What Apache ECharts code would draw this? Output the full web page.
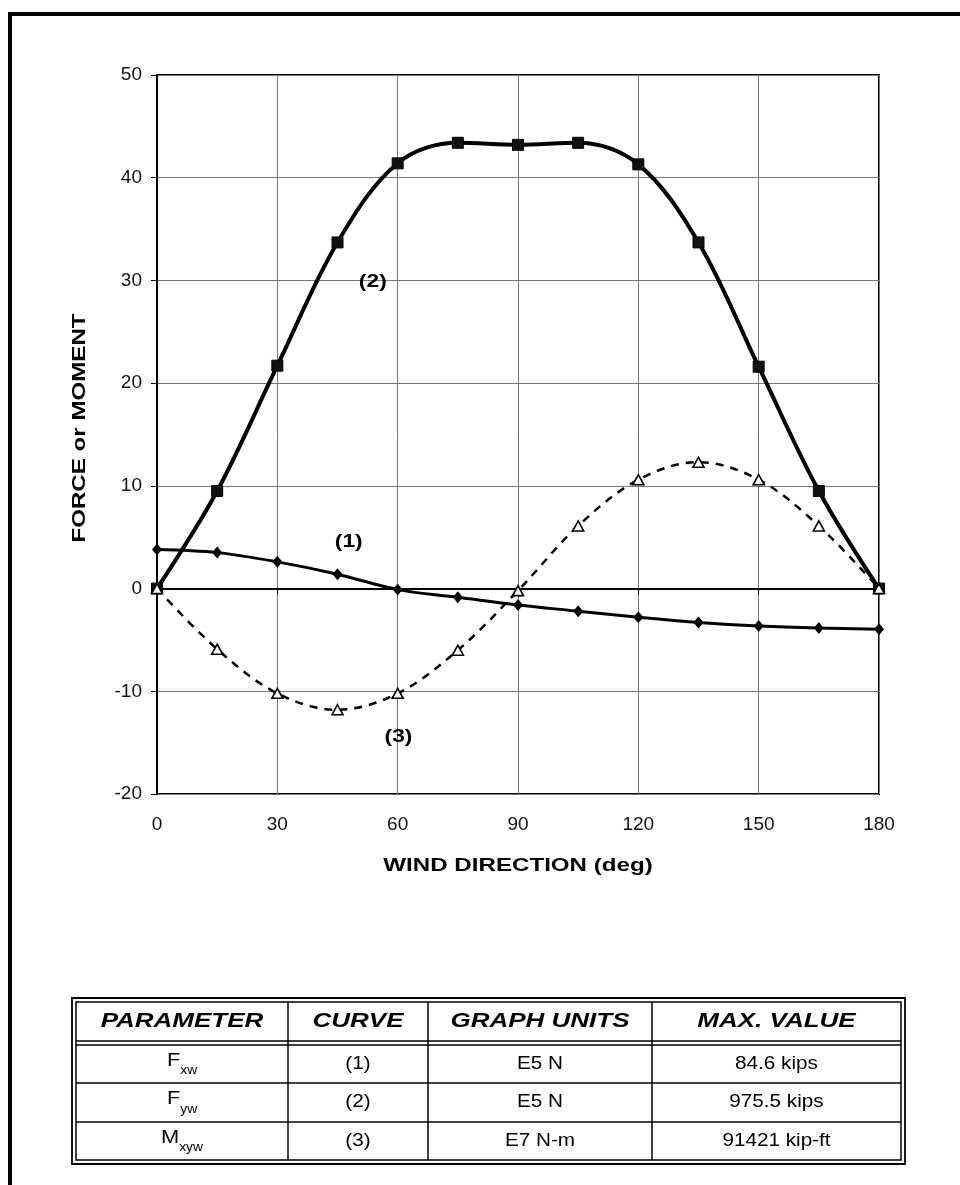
<!DOCTYPE html>
<html>
<head>
<meta charset="utf-8">
<title>Force or moment vs wind direction</title>
<script src="https://cdn.jsdelivr.net/npm/echarts@6.0.0/dist/echarts.min.js"></script>
<style>
html, body { margin: 0; padding: 0; background: #fff; }
#main { width: 960px; height: 1185px; }
</style>
</head>
<body>
<div id="main"></div>
<script>
/**
 * data
 * */
// wind direction (deg)
var windDir = [0, 15, 30, 45, 60, 75, 90, 105, 120, 135, 150, 165, 180];
// (1) Fxw, E5 N
var curveFxw = [3.8, 3.5, 2.6, 1.4, -0.1, -0.85, -1.6, -2.2, -2.8, -3.3, -3.65, -3.85, -3.95];
// (2) Fyw, E5 N
var curveFyw = [0, 9.5, 21.7, 33.7, 41.4, 43.4, 43.2, 43.4, 41.3, 33.7, 21.6, 9.5, 0];
// (3) Mxyw, E7 N-m
var curveMxyw = [0, -5.9, -10.2, -11.8, -10.2, -6.0, -0.2, 6.1, 10.6, 12.3, 10.6, 6.1, 0];

// axis titles
var xTitle = 'WIND DIRECTION (deg)';
var yTitle = 'FORCE or MOMENT';

// curve tags, in data units
var tagText = ['(1)', '(2)', '(3)'];
var tagX = [47.8, 53.8, 60.2];
var tagY = [4.6, 29.9, -14.4];

// table
var tableHead = ['PARAMETER', 'CURVE', 'GRAPH UNITS', 'MAX. VALUE'];
var paramName = ['F', 'F', 'M'];
var paramSub = ['xw', 'yw', 'xyw'];
var curveNo = ['(1)', '(2)', '(3)'];
var graphUnits = ['E5 N', 'E5 N', 'E7 N-m'];
var maxValue = ['84.6 kips', '975.5 kips', '91421 kip-ft'];

/**
 * layout
 * */
var tbl = {
	outer: [72, 998, 905, 1164],
	inner: [76, 1002, 901, 1160],
	colX: [76, 288, 428, 652, 901],
	rowY: [1002, 1041, 1045, 1083, 1122, 1160]
};
var textFont = 'Liberation Sans';

function pairs(ys) {
	return windDir.map(function(x, i) { return [x, ys[i]]; });
}

var chart = echarts.init(document.getElementById('main'));

var option = {
	animation: false,
	backgroundColor: '#fff',
	grid: {
		left: 157, top: 75, width: 722, height: 719,
		show: true, borderColor: '#000', borderWidth: 2,
		outerBoundsMode: 'none'
	},
	xAxis: {
		type: 'value', min: 0, max: 180, interval: 30,
		axisLine: { show: true, lineStyle: { color: '#000', width: 2 } },
		axisTick: { show: true, length: 6, lineStyle: { color: '#000' } },
		axisLabel: { fontFamily: textFont, fontSize: 19, color: '#111', margin: 21 },
		splitLine: { show: true, lineStyle: { color: '#777', width: 1 } }
	},
	yAxis: {
		type: 'value', min: -20, max: 50, interval: 10,
		axisLine: { show: true, lineStyle: { color: '#000', width: 2 } },
		axisTick: { show: true, length: 6, lineStyle: { color: '#000' } },
		axisLabel: { fontFamily: textFont, fontSize: 19, color: '#111', margin: 15 },
		splitLine: { show: true, lineStyle: { color: '#777', width: 1 } }
	},
	series: [{
		name: 'Fxw', type: 'line', data: pairs(curveFxw), smooth: 0.35,
		symbol: 'diamond', symbolSize: [10, 12], showAllSymbol: true,
		lineStyle: { color: '#000', width: 3 }, itemStyle: { color: '#000' }, z: 3
	}, {
		name: 'Fyw', type: 'line', data: pairs(curveFyw), smooth: 0.35,
		symbol: 'rect', symbolSize: 11, showAllSymbol: true,
		lineStyle: { color: '#000', width: 4 }, itemStyle: { color: '#111', borderColor: '#000', borderWidth: 1 }, z: 4
	}, {
		name: 'Mxyw', type: 'line', data: pairs(curveMxyw), smooth: 0.35,
		symbol: 'triangle', symbolSize: [11, 10], showAllSymbol: true,
		lineStyle: { color: '#000', width: 2.5, type: [8, 7] },
		itemStyle: { color: '#fff', borderColor: '#000', borderWidth: 1.6 }, z: 5
	}]
};

chart.setOption(option);

/**
 * graphic: titles, tags, table, page frame
 * */
var g = [];
var titleFont = 'bold 19px "' + textFont + '"';

// axis titles (stretched, like the scanned original)
var pLeftBottom = chart.convertToPixel({ gridIndex: 0 }, [0, -20]);
var pRightTop = chart.convertToPixel({ gridIndex: 0 }, [180, 50]);
g.push({
	type: 'text', x: (pLeftBottom[0] + pRightTop[0]) / 2, y: pLeftBottom[1] + 72, scaleX: 1.27, z: 10,
	style: { text: xTitle, font: titleFont, fill: '#000', align: 'center', verticalAlign: 'middle' }
});
g.push({
	type: 'text', x: 80, y: 428, rotation: Math.PI / 2, scaleX: 1.27, z: 10,
	style: { text: yTitle, font: titleFont, fill: '#000', align: 'center', verticalAlign: 'middle' }
});

// curve tags
tagText.forEach(function(t, i) {
	var p = chart.convertToPixel({ gridIndex: 0 }, [tagX[i], tagY[i]]);
	g.push({
		type: 'text', x: p[0], y: p[1], scaleX: 1.2, z: 10,
		style: { text: t, align: 'center', verticalAlign: 'middle',
			font: 'bold 19px "' + textFont + '"', fill: '#000' }
	});
});

// page frame
g.push({ type: 'line', shape: { x1: 10, y1: 12, x2: 10, y2: 1185 }, style: { stroke: '#000', lineWidth: 4 } });
g.push({ type: 'line', shape: { x1: 8, y1: 14, x2: 960, y2: 14 }, style: { stroke: '#000', lineWidth: 4 } });

// table borders
function rect(b, w) {
	g.push({ type: 'rect', shape: { x: b[0], y: b[1], width: b[2] - b[0], height: b[3] - b[1] },
		style: { fill: 'none', stroke: '#000', lineWidth: w } });
}
function hline(y, x1, x2) {
	g.push({ type: 'line', shape: { x1: x1, y1: y, x2: x2, y2: y }, style: { stroke: '#000', lineWidth: 1.5 } });
}
rect(tbl.outer, 1.8);
rect(tbl.inner, 1.5);
for (var r = 1; r < tbl.rowY.length - 1; r++) hline(tbl.rowY[r], tbl.inner[0], tbl.inner[2]);
for (var c = 1; c < tbl.colX.length - 1; c++) {
	g.push({ type: 'line', shape: { x1: tbl.colX[c], y1: tbl.inner[1], x2: tbl.colX[c], y2: tbl.inner[3] },
		style: { stroke: '#000', lineWidth: 1.5 } });
}

function cellText(col, yTop, yBot, style, sx) {
	var cx = (tbl.colX[col] + tbl.colX[col + 1]) / 2;
	var cy = (yTop + yBot) / 2;
	style.align = 'center';
	style.verticalAlign = 'middle';
	style.fill = '#000';
	g.push({ type: 'text', x: cx, y: cy, scaleX: sx, z: 10, style: style });
}

// header
tableHead.forEach(function(h, c) {
	cellText(c, tbl.rowY[0], tbl.rowY[1], { text: h, font: 'italic bold 20px "' + textFont + '"' }, 1.3);
});

// body rows
for (var i = 0; i < paramName.length; i++) {
	var y0 = tbl.rowY[i + 2], y1 = tbl.rowY[i + 3];
	cellText(0, y0, y1, {
		text: '{m|' + paramName[i] + '}{s|' + paramSub[i] + '}',
		rich: {
			m: { fontFamily: textFont, fontSize: 19, lineHeight: 26, verticalAlign: 'top' },
			s: { fontFamily: textFont, fontSize: 12, lineHeight: 26, verticalAlign: 'bottom', padding: [12, 0, 0, 0] }
		}
	}, 1.15);
	cellText(1, y0, y1, { text: curveNo[i], font: '18px "' + textFont + '"' }, 1.15);
	cellText(2, y0, y1, { text: graphUnits[i], font: '18px "' + textFont + '"' }, 1.15);
	cellText(3, y0, y1, { text: maxValue[i], font: '18px "' + textFont + '"' }, 1.15);
}

chart.setOption({ graphic: g });
</script>
</body>
</html>
